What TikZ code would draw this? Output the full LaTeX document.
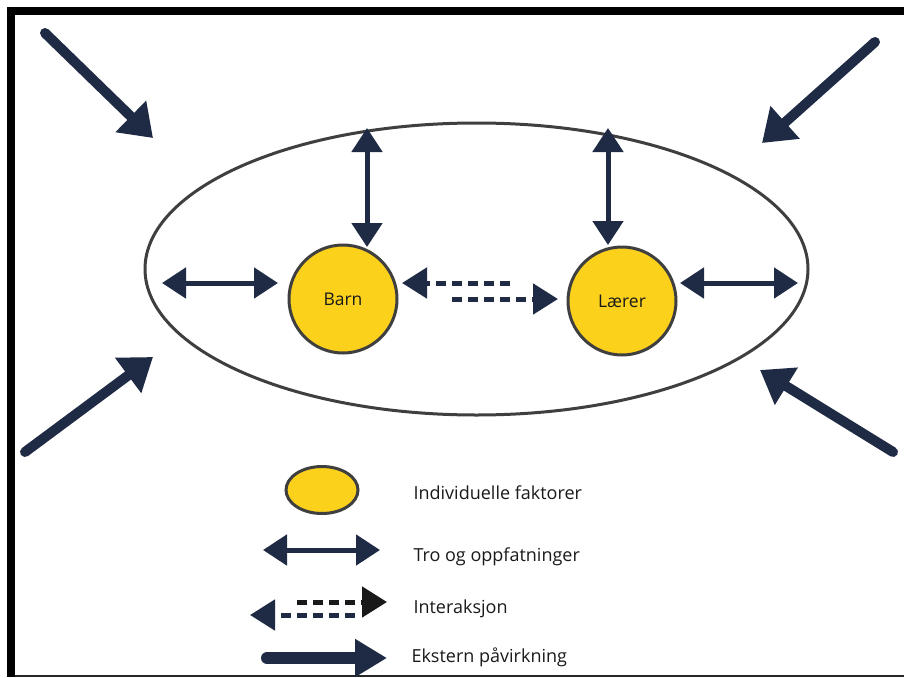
\documentclass[tikz,border=0pt]{standalone}
\usepackage{fontspec}
\setmainfont{Open Sans}
\usetikzlibrary{arrows.meta,shapes.geometric}
\definecolor{navy}{HTML}{1F2A44}
\definecolor{gold}{HTML}{FCD11C}
\definecolor{rim}{HTML}{3F3F3F}
\definecolor{txt}{HTML}{1A1A1A}
\begin{document}
\begin{tikzpicture}[x=1pt,y=-1pt,
  circ/.style={circle, draw=rim, line width=3pt, fill=gold, minimum size=108pt, inner sep=0pt, text=txt, font=\fontsize{17.5}{20}\selectfont},
  belief/.style={draw=navy, line width=5pt, {Triangle[length=24pt,width=30pt]}-{Triangle[length=24pt,width=30pt]}},
  inter/.style={draw=navy, line width=5pt, dash pattern=on 10pt off 6pt, -{Triangle[length=25pt,width=30pt]}},
  ext/.style={draw=navy, line width=10pt, line cap=round, -{Triangle[length=31pt,width=42pt]}},
  lbl/.style={anchor=west, font=\fontsize{18}{21}\selectfont, text=txt}]

\useasboundingbox (0,0) rectangle (904,677);
\fill[white] (0,0) rectangle (904,677);
% frame
\fill[black] (7,7) rectangle (904,15);
\fill[black] (7,7) rectangle (15,677);
\fill[black!85] (15,675) rectangle (904,677);

% environment ellipse
\node[ellipse, draw=rim, line width=3pt, minimum width=663pt, minimum height=292pt, inner sep=0pt] (env) at (476.5,269) {};

% individuals
\node[circ] (barn) at (343,299) {Barn};
\node[circ] (laerer) at (622,301) {Lærer};

% belief arrows
\coordinate (bTop) at (367,128);
\coordinate (bBot) at (367,247);
\coordinate (lTop) at (608,128);
\coordinate (lBot) at (608,245);
\coordinate (bL) at (162,283);
\coordinate (bR) at (278,283);
\coordinate (lL) at (680,283);
\coordinate (lR) at (798,283);
\draw[belief] (bTop) -- (bBot);
\draw[belief] (lTop) -- (lBot);
\draw[belief] (bL) -- (bR);
\draw[belief] (lL) -- (lR);

% interaction
\coordinate (i1s) at (510,283);
\coordinate (i1e) at (402,283);
\coordinate (i2s) at (452,299);
\coordinate (i2e) at (558,299);
\draw[inter] (i1s) -- (i1e);
\draw[inter] (i2s) -- (i2e);

% external influence
\coordinate (e1s) at (45,33);   \coordinate (e1e) at (153,138);
\coordinate (e2s) at (875,42);  \coordinate (e2e) at (762,143);
\coordinate (e3s) at (25,452);  \coordinate (e3e) at (153,357);
\coordinate (e4s) at (893,452); \coordinate (e4e) at (760,370);
\draw[ext] (e1s) -- (e1e);
\draw[ext] (e2s) -- (e2e);
\draw[ext] (e3s) -- (e3e);
\draw[ext] (e4s) -- (e4e);

% legend
\node[ellipse, draw=rim, line width=3pt, fill=gold, minimum width=72pt, minimum height=47pt, inner sep=0pt] (lgE) at (322,490) {};
\node[lbl] (t1) at (410,493) {Individuelle faktorer};

\coordinate (lgB1) at (263,550); \coordinate (lgB2) at (380,550);
\draw[belief] (lgB1) -- (lgB2);
\node[lbl] (t2) at (410,557) {Tro og oppfatninger};

\coordinate (lgI1) at (297,602); \coordinate (lgI2) at (387,602);
\coordinate (lgI3) at (355,615); \coordinate (lgI4) at (250,615);
\draw[inter, draw=black!90] (lgI1) -- (lgI2);
\draw[inter] (lgI3) -- (lgI4);
\node[lbl] (t3) at (410,609) {Interaksjon};

\coordinate (lgX1) at (267,658); \coordinate (lgX2) at (387,658);
\draw[draw=navy, line width=12pt, line cap=round, -{Triangle[length=32pt,width=36pt]}] (lgX1) -- (lgX2);
\node[lbl] (t4) at (408,657) {Ekstern påvirkning};
\end{tikzpicture}
\end{document}
